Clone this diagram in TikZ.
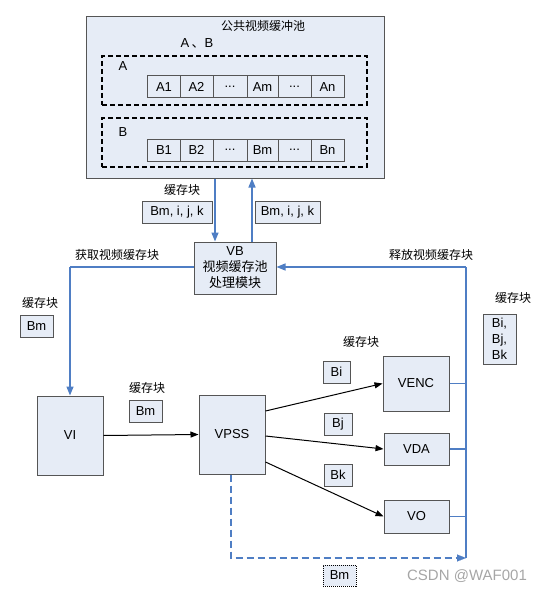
\documentclass[tikz,border=0pt]{standalone}
\usepackage{fontspec}
\setmainfont{Liberation Sans}
\newfontfamily\cjk{Noto Sans CJK SC}
\usetikzlibrary{arrows.meta}
\definecolor{boxfill}{HTML}{E6ECF6}
\definecolor{boxline}{HTML}{555555}
\definecolor{lineblue}{HTML}{4F7EC4}
\begin{document}
\begin{tikzpicture}[x=1pt,y=-1pt,
  box/.style={draw=boxline,fill=boxfill,line width=1pt,inner sep=0pt,font=\fontsize{13}{15}\selectfont},
  cell/.style={box,minimum width=33pt,minimum height=22pt},
  dashbox/.style={draw=black,dashed,dash pattern=on 5pt off 3pt,line width=1.5pt,inner sep=0pt},
  lbl/.style={font=\cjk\fontsize{12}{14}\selectfont,inner sep=0pt},
  bl/.style={draw=lineblue,line width=1.4pt},
  blarrow/.style={bl,-{Triangle[length=9pt,width=7pt]}},
  karrow/.style={draw=black,line width=1pt,-{Triangle[length=8pt,width=6pt]}}]
\useasboundingbox (0,0) rectangle (555,591);

% pool
\node[box,minimum width=298pt,minimum height=161pt] (pool) at (235,97.5) {};
\node[lbl] (pooltitle) at (263,26) {公共视频缓冲池};
\node[font=\fontsize{13}{15}\selectfont,inner sep=0pt] (ab) at (197,43) {A\,{\cjk 、}B};
\node[dashbox,minimum width=265pt,minimum height=49pt] (dA) at (234.5,80.5) {};
\node[dashbox,minimum width=265pt,minimum height=49pt] (dB) at (234.5,142.5) {};
\node[font=\fontsize{13}{15}\selectfont,inner sep=0pt] (la) at (123,66) {A};
\node[font=\fontsize{13}{15}\selectfont,inner sep=0pt] (lb) at (123,132) {B};

\node[cell] (a1) at (164,87) {A1};
\node[cell] (a2) at (196.5,87) {A2};
\node[cell,minimum width=34pt] (a3) at (230,87) {...};
\node[cell,minimum width=31pt] (a4) at (262.5,87) {Am};
\node[cell] (a5) at (294.5,87) {...};
\node[cell] (a6) at (327.5,87) {An};
\node[cell] (b1) at (164,150) {B1};
\node[cell] (b2) at (196.5,150) {B2};
\node[cell,minimum width=34pt] (b3) at (230,150) {...};
\node[cell,minimum width=31pt] (b4) at (262.5,150) {Bm};
\node[cell] (b5) at (294.5,150) {...};
\node[cell] (b6) at (327.5,150) {Bn};

% VB
\node[box,minimum width=82pt,minimum height=52pt,align=center,font=\fontsize{13}{16}\selectfont] (vb) at (235,268) {VB\\{\cjk 视频缓存池}\\{\cjk 处理模块}};

\coordinate (dn) at (215,0);
\coordinate (up) at (252,0);
\draw[blarrow] (pool.south -| dn) -- (vb.north -| dn);
\draw[blarrow] (vb.north -| up) -- (pool.south -| up);
\node[lbl] (l1) at (182,190) {缓存块};
\node[box,minimum width=70pt,minimum height=22pt] (bx1) at (177,212) {Bm, i, j, k};
\node[box,minimum width=65pt,minimum height=22pt] (bx2) at (287.5,212) {Bm, i, j, k};

% modules
\node[box,minimum width=66pt,minimum height=79pt] (vi) at (70,435.5) {VI};
\node[box,minimum width=66pt,minimum height=79pt] (vpss) at (232,434.5) {VPSS};
\node[box,minimum width=66pt,minimum height=55pt] (venc) at (416,383.5) {VENC};
\node[box,minimum width=65pt,minimum height=32pt] (vda) at (416.5,449) {VDA};
\node[box,minimum width=65pt,minimum height=33pt] (vo) at (416.5,516.5) {VO};

% left get path
\coordinate (lc) at (70,267);
\draw[bl] (vb.west |- lc) -- (lc);
\draw[blarrow] (lc) -- (vi.north);
\node[lbl] (l2) at (117,255) {获取视频缓存块};
\node[lbl] (l3) at (40,303) {缓存块};
\node[box,minimum width=33pt,minimum height=22pt] (bmL) at (36.5,326) {Bm};

% right release path
\coordinate (rc) at (466,267);
\coordinate (rb) at (466,558);
\draw[blarrow] (rc) -- (vb.east |- rc);
\draw[bl] (rc) -- (rb);
\draw[bl] (venc.east) -- (venc.east -| rc);
\draw[bl] (vda.east) -- (vda.east -| rc);
\draw[bl] (vo.east) -- (vo.east -| rc);
\node[lbl] (l4) at (431,255) {释放视频缓存块};
\node[lbl] (l5) at (513,298) {缓存块};
\node[box,minimum width=33pt,minimum height=50pt,align=center,font=\fontsize{13}{16}\selectfont] (bijk) at (499.5,339) {Bi,\\Bj,\\Bk};

% VI -> VPSS
\draw[karrow] (vi.east) -- (vpss.west);
\node[lbl] (l6) at (147,388) {缓存块};
\node[box,minimum width=33pt,minimum height=22pt] (bmM) at (145.5,411) {Bm};

% VPSS -> outputs
\draw[karrow] ([yshift=23.5pt]vpss.east) -- (venc.west);
\draw[karrow] ([yshift=-1.5pt]vpss.east) -- (vda.west);
\draw[karrow] ([yshift=-27.5pt]vpss.east) -- (vo.west);
\node[lbl] (l7) at (361,342) {缓存块};
\node[box,minimum width=27pt,minimum height=22pt] (bi) at (336.5,372) {Bi};
\node[box,minimum width=28pt,minimum height=22pt] (bj) at (338,424) {Bj};
\node[box,minimum width=28pt,minimum height=22pt] (bk) at (338,475) {Bk};

% dashed return
\coordinate (dc) at (231,558);
\draw[draw=lineblue,line width=2pt,dash pattern=on 7pt off 4pt] (vpss.south -| dc) -- (dc) -- ([xshift=-8pt]rb);
\draw[blarrow,line width=0.1pt] ([xshift=-9pt]rb) -- (rb);
\node[box,minimum width=33pt,minimum height=21pt,draw=black,densely dotted] (bmB) at (339.5,575.5) {Bm};

% watermark
\node[text=gray!70,font=\fontsize{15}{17}\selectfont,inner sep=0pt] (wm) at (467,576) {CSDN @WAF001};
\end{tikzpicture}
\end{document}
